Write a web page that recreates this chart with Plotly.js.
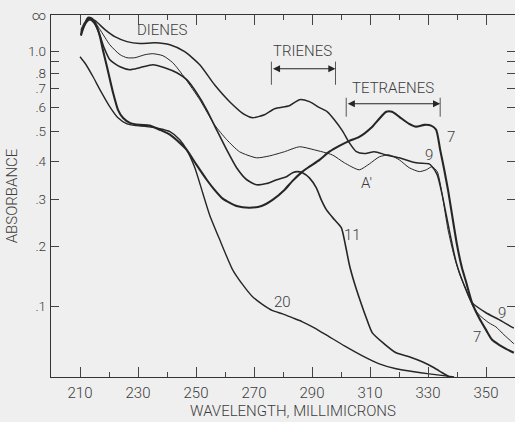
<!DOCTYPE html>
<html><head><meta charset="utf-8">
<script src="https://cdn.plot.ly/plotly-3.0.1.min.js"></script>
<style>html,body{margin:0;padding:0;background:#efefef;}#chart{width:515px;height:422px;}</style>
</head><body><div id="chart"></div>
<script>
// Absorbance spectra (wavelength in millimicrons, absorbance)
const wl7 = [210.3,211.4,212.8,214.1,215.8,216.9,217.9,219.3,221.4,223.1,224.8,227.2,230.6,234.1,237.5,241.0,244.4,246.8,250.2,253.7,256.4,259.2,264.0,268.5,272.6,276.4,280.5,283.3,286.7,289.1,292.6,296.0,299.4,302.9,306.3,310.8,313.2,315.6,317.6,320.1,323.5,325.9,328.7,331.1,332.8,334.2,335.6,336.9,338.3,340.0,341.7,343.1,345.2,347.6,350.0,352.1,354.5,356.9,359.6];
const ab7 = [1.25,1.535,2.13,2.0,1.50,1.23,1.02,0.851,0.674,0.588,0.553,0.532,0.524,0.521,0.505,0.487,0.458,0.435,0.389,0.348,0.322,0.301,0.284,0.280,0.284,0.298,0.322,0.345,0.370,0.384,0.404,0.429,0.448,0.465,0.479,0.517,0.549,0.579,0.579,0.557,0.528,0.517,0.524,0.521,0.505,0.435,0.375,0.322,0.264,0.2035,0.162,0.139,0.1057,0.0837,0.0667,0.0532,0.0466,0.0413,0.0362];

const wl9 = [210.3,212.1,213.4,215.2,218.6,222.0,226.2,230.6,235.8,241.0,246.1,251.3,256.4,261.6,266.8,269.5,273.6,277.1,282.2,285.7,289.1,292.6,295.3,297.7,300.5,302.9,305.3,308.0,311.5,315.6,320.1,325.9,330.4,331.4,333.2,334.9,337.3,339.7,342.4,345.2,350.0,354.5,359.6];
const ab9 = [1.34,1.74,2.0,1.81,1.40,1.23,1.14,1.11,1.12,1.09,1.00,0.868,0.721,0.627,0.566,0.553,0.566,0.593,0.607,0.637,0.627,0.598,0.579,0.545,0.501,0.458,0.429,0.423,0.429,0.419,0.410,0.395,0.392,0.384,0.361,0.310,0.233,0.172,0.134,0.106,0.091,0.081,0.069];

const wlA = [210.3,211.7,213.1,214.5,216.9,220.3,223.8,226.2,228.9,232.4,235.1,238.6,242.0,246.1,251.3,256.4,260.6,265.0,270.9,275.4,280.5,285.7,290.8,297.0,301.2,306.3,309.8,313.2,316.6,320.1,323.5,327.0,329.4,331.4,333.2,334.9,336.9,338.9,341.0,343.1,345.2,347.6,351.0,353.4,356.2,359.6];
const abA = [1.40,1.74,2.0,1.89,1.40,1.09,0.966,0.934,0.934,0.966,0.977,0.955,0.886,0.767,0.637,0.524,0.469,0.429,0.410,0.416,0.429,0.445,0.435,0.419,0.395,0.375,0.392,0.413,0.419,0.404,0.381,0.370,0.375,0.384,0.370,0.310,0.233,0.185,0.150,0.126,0.103,0.088,0.0765,0.0709,0.060,0.048];

const wl11 = [210.3,212.1,213.4,214.8,216.5,218.2,220.3,223.8,227.2,230.6,235.1,239.2,243.4,246.8,250.2,253.7,257.1,260.6,264.0,267.5,270.9,274.3,277.8,281.2,283.3,285.0,286.7,289.1,291.5,293.2,295.0,297.7,300.1,301.5,302.9,304.6,306.3,308.7,310.8,314.9,319.0,323.5,328.0,332.1,334.9,337.3];
const ab11 = [1.29,1.68,1.89,1.68,1.32,1.06,0.914,0.851,0.827,0.843,0.868,0.843,0.803,0.754,0.674,0.588,0.505,0.435,0.381,0.348,0.335,0.338,0.348,0.356,0.367,0.370,0.367,0.353,0.327,0.298,0.275,0.254,0.237,0.2035,0.167,0.137,0.113,0.0837,0.0626,0.0479,0.0362,0.0311,0.0247,0.0173,0.0112,0.0063];

const wl20 = [210.0,212.1,214.5,216.9,220.3,223.1,226.2,229.6,233.0,237.5,241.0,244.4,246.8,249.6,252.3,254.7,258.2,262.6,266.1,269.5,273.0,276.4,279.9,283.3,286.7,290.8,296.0,301.2,307.4,313.2,319.0,325.2,330.4,339.0];
const ab20 = [0.944,0.868,0.774,0.691,0.602,0.553,0.528,0.521,0.517,0.509,0.498,0.469,0.435,0.381,0.315,0.264,0.213,0.159,0.134,0.115,0.103,0.094,0.0894,0.0837,0.078,0.0696,0.0572,0.0452,0.0323,0.0222,0.0161,0.0124,0.0099,0.0063];

// Axis tick labels
const xTickVals = [210,230,250,270,290,310,330,350];
const yTickAbs = [Infinity,1.0,0.9,0.8,0.7,0.6,0.5,0.4,0.3,0.2,0.1];
const yTickText = ["∞","1.0","",".8",".7",".6",".5",".4",".3",".2",".1"];

// The ordinate is ruled linearly in transmittance T = 10^-A (absorbance labels)
const toT = a => (a === Infinity ? 0 : Math.pow(10, -a));

const ink = '#262626';
const FAM = 'Roboto, "Liberation Sans", sans-serif';
const FONT = {family: FAM, size: 15, color: '#3c3c3c', weight: 300};
const YTICKFONT = {family: FAM, size: 13.5, color: '#3c3c3c', weight: 300};

function curve(wl, ab, w, name) {
  return {x: wl, y: ab.map(toT), mode: 'lines', name: name,
          line: {color: ink, width: w, shape: 'spline', smoothing: 0.6}, hoverinfo: 'skip'};
}
const data = [
  curve(wl9, ab9, 1.5, '9'),
  curve(wlA, abA, 1.0, "A'"),
  curve(wl11, ab11, 1.6, '11'),
  curve(wl20, ab20, 1.4, '20'),
  curve(wl7, ab7, 2.1, '7')
];

// Curve labels and region labels (wavelength, transmittance position)
const labels = [
  {t: 'DIENES', x: 238.6, y: 0.040},
  {t: 'TRIENES', x: 286.7, y: 0.097},
  {t: 'TETRAENES', x: 318.0, y: 0.198},
  {t: '7', x: 338.0, y: 0.332},
  {t: '9', x: 330.4, y: 0.381},
  {t: "A'", x: 308.7, y: 0.457},
  {t: '11', x: 303.9, y: 0.599},
  {t: '20', x: 279.8, y: 0.781},
  {t: '9', x: 355.5, y: 0.811},
  {t: '7', x: 346.9, y: 0.876}
];
const ranges = [
  {x0: 276.0, x1: 298.1, y: 0.1463, yb0: 0.127, yb1: 0.19},
  {x0: 301.8, x1: 334.2, y: 0.2417, yb0: 0.2253, yb1: 0.277}
];

const annotations = labels.map(l => ({text: l.t, x: l.x, y: l.y, xref: 'x', yref: 'y',
  showarrow: false, font: FONT}));
// x-axis title, centred where the reference places it
annotations.push({text: 'WAVELENGTH, MILLIMICRONS', xref: 'paper', yref: 'paper',
  x: 0.522, y: -0.095, xanchor: 'center', yanchor: 'middle', showarrow: false, font: FONT});
ranges.forEach(r => annotations.push({text: '', x: r.x1, y: r.y, ax: r.x0, ay: r.y,
  xref: 'x', yref: 'y', axref: 'x', ayref: 'y', showarrow: true,
  arrowside: 'end+start', arrowhead: 2, startarrowhead: 2, arrowsize: 1.3, startarrowsize: 1.3,
  arrowwidth: 1.1, arrowcolor: ink}));
const shapes = [];
ranges.forEach(r => {
  [r.x0, r.x1].forEach(xx => shapes.push({type: 'line', xref: 'x', yref: 'y',
    x0: xx, x1: xx, y0: r.yb0, y1: r.yb1, line: {color: '#555', width: 1}}));
});

const layout = {
  width: 515, height: 422,
  margin: {l: 51, r: 0, t: 15, b: 45},
  paper_bgcolor: '#efefef', plot_bgcolor: '#efefef',
  showlegend: false,
  font: FONT,
  xaxis: {
    range: [200, 360], tickvals: xTickVals, ticktext: xTickVals.map(String),
    ticks: 'inside', ticklen: 10, tickwidth: 1, tickcolor: '#444',
    minor: {tick0: 200, dtick: 10, ticks: 'inside', ticklen: 5, tickcolor: '#444', tickwidth: 1},
    showline: true, linecolor: '#333', linewidth: 1.2, mirror: 'ticks',
    showgrid: false, zeroline: false, tickfont: FONT, ticklabelstandoff: 2
  },
  yaxis: {
    range: [0.986, 0], tickvals: yTickAbs.map(toT), ticktext: yTickText,
    ticks: 'inside', ticklen: 8, tickwidth: 1, tickcolor: '#444',
    showline: true, linecolor: '#333', linewidth: 1.2, mirror: 'ticks',
    showgrid: false, zeroline: false, tickfont: YTICKFONT, ticklabelstandoff: 1,
    title: {text: 'ABSORBANCE', font: FONT, standoff: 6}
  },
  annotations: annotations,
  shapes: shapes
};
Plotly.newPlot('chart', data, layout, {staticPlot: true, displayModeBar: false});
</script></body></html>
